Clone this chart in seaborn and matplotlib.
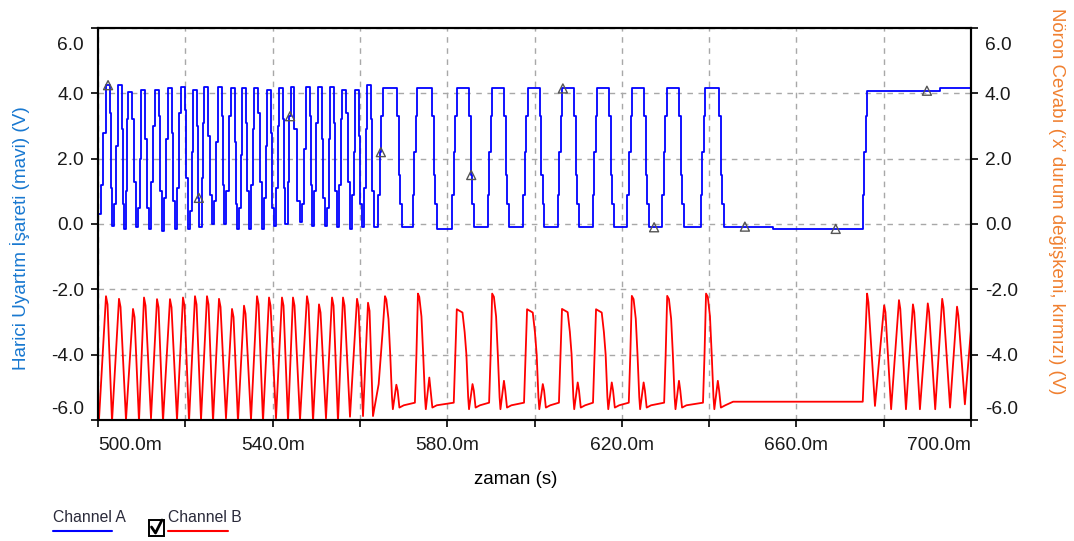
import matplotlib
matplotlib.use("Agg")
import matplotlib.pyplot as plt
import seaborn as sns
from matplotlib.transforms import ScaledTranslation
from matplotlib.patches import Rectangle
from matplotlib.lines import Line2D

# ---------------- data: time in ms, voltage in V ----------------
# Channel A (external stimulus, blue) - fast section
a_start_ms, a_start_v = 500.0, 0.3
a_peak_ms = [502.29, 505.04, 507.33, 510.31, 513.52, 516.49, 519.47, 522.22, 524.74, 527.95, 530.93,
             533.45, 536.20, 539.18, 541.92, 544.60, 548.11, 550.86, 553.61, 556.36, 559.34, 562.09]
a_peak_v = [4.25, 4.25, 4.05, 4.1, 4.1, 4.15, 4.2, 4.1, 4.2, 4.2, 4.15,
            4.15, 4.15, 4.1, 4.15, 4.2, 4.2, 4.2, 4.2, 4.1, 4.1, 4.25]
a_trough_ms = [503.44, 506.19, 508.93, 511.91, 514.89, 517.87, 520.85, 523.50, 526.35, 529.10, 532.07,
               534.82, 537.80, 540.55, 543.20, 546.51, 549.26, 552.23, 554.98, 557.96, 560.71, 563.46]
a_trough_v = [-0.05, -0.15, -0.1, -0.15, -0.2, -0.15, -0.15, -0.1, 0.0, 0.0, -0.15,
              -0.15, -0.15, -0.05, 0.0, 0.05, -0.05, -0.05, -0.1, -0.15, -0.1, -0.1]
# intermediate sample levels on each rising / falling edge of the fast section
a_up_stairs = [[1.2, 2.8], [0.6, 2.4], [1.0, 3.2], [0.5, 2.0], [1.3, 3.0], [0.8, 2.6], [1.1, 3.4],
               [0.4, 2.2], [1.4, 3.1], [0.7, 2.5], [1.0, 3.3], [0.5, 2.1], [1.2, 2.9], [0.8, 2.4],
               [1.1, 3.0], [1.3, 3.3], [0.6, 2.3], [1.0, 3.1], [0.5, 2.6], [1.2, 3.2], [0.9, 2.2],
               [1.1, 2.9]]
a_down_stairs = [[3.4, 1.1], [2.9, 0.6], [3.2, 1.3], [2.6, 0.5], [3.3, 1.0], [2.8, 0.7], [3.5, 1.4],
                 [3.0, 0.8], [2.7, 0.9], [3.3, 1.2], [2.5, 0.6], [3.1, 1.0], [3.4, 1.3], [2.8, 0.5],
                 [3.2, 1.1], [2.9, 0.7], [3.3, 1.2], [2.6, 0.8], [3.1, 1.0], [3.4, 1.3], [2.7, 0.6],
                 [3.2, 1.0]]
# Channel A - slow square-wave section
a_rise_ms = [564.2, 572.1, 581.2, 589.3, 597.4, 605.3, 613.3, 621.3, 629.3, 638.1, 675.2]
a_hi_v = [4.15, 4.15, 4.15, 4.15, 4.15, 4.15, 4.15, 4.15, 4.15, 4.15, 4.08]
a_fall_ms = [568.6, 576.6, 585.0, 593.1, 601.2, 609.1, 617.1, 625.1, 633.1, 642.3]
a_lo_v = [-0.1, -0.15, -0.1, -0.1, -0.1, -0.1, -0.1, -0.1, -0.1, -0.08]
a_rise_stairs = [0.9, 2.2, 3.3]
a_fall_stairs = [3.3, 1.5, 0.6]
a_rest_ms, a_rest_v = 654.7, -0.15
a_end_ms = [693.0, 700.0]
a_end_v = [4.15, 4.15]
# sample markers on channel A
mk_ms = [502.3, 523.1, 544.0, 564.8, 585.5, 606.5, 627.4, 648.2, 669.0, 689.9]
mk_v = [4.25, 0.8, 3.3, 2.2, 1.5, 4.15, -0.1, -0.08, -0.15, 4.08]

# Channel B (neuron response, red) - fast oscillation section
b_trough_ms = [500.2, 503.21, 506.41, 509.39, 512.14, 514.89, 518.10, 520.85, 523.60, 526.35, 529.32,
               532.07, 535.05, 537.80, 540.78, 543.53, 546.28, 549.26, 552.23, 554.98, 557.73, 560.71,
               563.0]
b_trough_v = [-6.05, -6.05, -6.0, -6.05, -5.95, -6.05, -6.0, -6.05, -6.0, -6.05, -5.95,
              -6.05, -6.0, -6.05, -5.95, -6.05, -6.0, -6.05, -5.95, -6.05, -5.9, -5.88,
              -5.88]
b_peak_ms = [501.83, 504.81, 508.02, 510.54, 513.52, 516.49, 519.47, 522.22, 524.97, 527.72, 530.70,
             533.45, 536.43, 539.18, 542.15, 544.67, 547.88, 550.63, 553.61, 556.13, 559.34, 561.86]
b_peak_v = [-2.21, -2.29, -2.6, -2.25, -2.3, -2.3, -2.25, -2.21, -2.21, -2.29, -2.6,
            -2.5, -2.21, -2.25, -2.25, -2.25, -2.21, -2.46, -2.25, -2.25, -2.29, -2.41]
b_lead_ms = [564.3, 565.2]
b_lead_v = [-4.9, -3.3]
# Channel B - bursts during slow stimulus
b_burst_ms = [565.75, 573.3, 582.2, 590.3, 598.3, 606.3, 614.1, 622.3, 630.4, 639.3]
b_burst_v = [-2.21, -2.13, -2.61, -2.13, -2.61, -2.6, -2.61, -2.2, -2.2, -2.13]
b_burst_top = [0.3, 0.3, 1.3, 0.4, 1.3, 1.3, 1.3, 0.4, 0.4, 0.4]
b_spike_v = [-4.92, -4.7, -4.9, -4.8, -4.9, -4.85, -4.85, -4.85, -4.8, -4.8]
b_base_v = -5.47
# Channel B - rest and renewed oscillation
b_tail_ms = [645.5, 675.2, 676.2, 676.5, 678.0, 680.1, 680.4, 681.7, 683.5, 683.8, 685.1, 686.7, 687.0,
             688.3, 690.1, 690.4, 691.8, 693.4, 693.7, 695.2, 696.8, 697.1, 698.6, 700.0]
b_tail_v = [-5.44, -5.44, -2.13, -2.4, -5.57, -2.49, -2.7, -5.67, -2.33, -2.6, -5.67, -2.46, -2.7,
            -5.67, -2.43, -2.7, -5.67, -2.29, -2.55, -5.62, -2.53, -2.8, -5.52, -3.23]

x_major = [500, 540, 580, 620, 660, 700]
x_minor = [520, 560, 600, 640, 680]
y_ticks = [-6, -4, -2, 0, 2, 4, 6]

STEP = 0.35  # sample spacing on the slow edges (ms)


def channel_a():
    """Sample-and-hold vertices of the stimulus (drawn as steps)."""
    t, v = [a_start_ms], [a_start_v]
    prev_end = a_start_ms + 0.6
    for i in range(len(a_peak_ms)):
        tp, vp = a_peak_ms[i], a_peak_v[i]
        r1, r2 = a_up_stairs[i]
        top0, top1 = tp - 0.4, tp + 0.4
        t += [prev_end, (prev_end + top0) / 2, top0]
        v += [r1, r2, vp]
        tt, vt = a_trough_ms[i], a_trough_v[i]
        f1, f2 = a_down_stairs[i]
        lo0 = tt - 0.3
        t += [top1, (top1 + lo0) / 2, lo0]
        v += [f1, f2, vt]
        prev_end = tt + 0.3
    for i in range(len(a_rise_ms)):
        if i == len(a_fall_ms):
            t.append(a_rest_ms)
            v.append(a_rest_v)
        tr = a_rise_ms[i]
        for k, lv in enumerate(a_rise_stairs):
            t.append(tr + k * STEP)
            v.append(lv)
        t.append(tr + len(a_rise_stairs) * STEP)
        v.append(a_hi_v[i])
        if i < len(a_fall_ms):
            tf = a_fall_ms[i]
            for k, lv in enumerate(a_fall_stairs):
                t.append(tf + k * STEP)
                v.append(lv)
            t.append(tf + len(a_fall_stairs) * STEP)
            v.append(a_lo_v[i])
    return t + a_end_ms, v + a_end_v


def channel_b():
    t, v = [], []
    for i in range(len(b_trough_ms)):
        t.append(b_trough_ms[i])
        v.append(b_trough_v[i])
        if i < len(b_peak_ms):
            t += [b_peak_ms[i], b_peak_ms[i] + 0.35]
            v += [b_peak_v[i], b_peak_v[i] - 0.25]
    t += b_lead_ms
    v += b_lead_v
    for i, (tp, vp, top, sp) in enumerate(zip(b_burst_ms, b_burst_v, b_burst_top, b_spike_v)):
        if i > 0:
            t += [tp - 0.7, tp - 0.35]
            v += [b_base_v, -4.0]
        te = tp + top
        t += [tp, te, te + 0.5, te + 0.9, te + 1.3, te + 1.5, te + 2.3, te + 2.6, te + 3.0, te + 4.0]
        v += [vp, vp - 0.1, vp - 0.7, -4.0, -5.3, -5.67, sp, -5.1, -5.62, -5.55]
    return t + b_tail_ms, v + b_tail_v


sns.set_theme(style="white")
plt.rcParams["font.family"] = ["Liberation Sans", "DejaVu Sans"]

W, H = 1074, 541
fig = plt.figure(figsize=(W / 100, H / 100), dpi=100)
fig.patch.set_facecolor("white")
ax = fig.add_axes([98 / W, 1 - 420 / H, (971 - 98) / W, (420 - 28) / H])
ax.set_facecolor("white")

ta, va = channel_a()
tb, vb = channel_b()
sns.lineplot(x=ta, y=va, sort=False, estimator=None, color="#0000FF", lw=1.3,
             drawstyle="steps-post", ax=ax)
sns.lineplot(x=tb, y=vb, sort=False, estimator=None, color="#FF0000", lw=1.3, ax=ax)
sns.scatterplot(x=mk_ms, y=mk_v, marker="^", s=42, facecolor="none", edgecolor="#555555",
                linewidth=1.0, ax=ax, zorder=5)

ax.set_xlim(500, 700)
ax.set_ylim(-6, 6)
ax.set_xticks(x_major)
ax.set_xticks(x_minor, minor=True)
ax.set_xticklabels([f"{x:.1f}m" for x in x_major])
ax.set_yticks(y_ticks)
ax.set_yticklabels([f"{y:.1f}" for y in y_ticks])
ax.grid(True, which="both", axis="x", color="#A8A8A8", linestyle=(0, (4, 4)), lw=1.0)
ax.grid(True, which="major", axis="y", color="#A8A8A8", linestyle=(0, (4, 4)), lw=1.0)
ax.set_xlabel("")
ax.set_ylabel("")

tick_color = "#1a1a1a"
FS = 13.8
ax.tick_params(axis="x", which="both", direction="out", length=5, width=1.2, color="black",
               bottom=True, labelsize=FS, labelcolor=tick_color, pad=7)
ax.tick_params(axis="y", which="major", direction="out", length=5, width=1.2, color="black",
               left=True, labelsize=FS, labelcolor=tick_color, pad=5)
for s in ax.spines.values():
    s.set_color("black")
    s.set_linewidth(1.5)

ax2 = ax.twinx()
ax2.set_ylim(-6, 6)
ax2.set_yticks(y_ticks)
ax2.set_yticklabels([f"{y:.1f}" for y in y_ticks])
ax2.tick_params(axis="y", direction="out", length=5, width=1.2, color="black", right=True,
                labelsize=FS, labelcolor=tick_color, pad=5)
ax2.grid(False)
for s in ax2.spines.values():
    s.set_color("black")
    s.set_linewidth(1.5)

# keep the end labels inside the plot height
down = ScaledTranslation(0, -0.15, fig.dpi_scale_trans)
up = ScaledTranslation(0, 0.12, fig.dpi_scale_trans)
for a in (ax, ax2):
    labels = a.get_yticklabels()
    labels[-1].set_transform(labels[-1].get_transform() + down)
    labels[0].set_transform(labels[0].get_transform() + up)
xl = ax.get_xticklabels()
xl[0].set_horizontalalignment("left")
xl[-1].set_horizontalalignment("right")

fig.text(516 / W, 1 - 480 / H, "zaman (s)", ha="center", va="center", fontsize=13.5, color="black")
fig.text(20 / W, 1 - 238 / H, "Harici Uyartım İşareti (mavi) (V)", rotation=90,
         ha="center", va="center", fontsize=13.6, color="#1878D0")
fig.text(1056 / W, 1 - 201 / H, "Nöron Cevabı (‘x’ durum değişkeni, kırmızı) (V)", rotation=270,
         ha="center", va="center", fontsize=13.4, color="#F08030")

# channel legend
fig.text(53 / W, 1 - 517 / H, "Channel A", ha="left", va="center", fontsize=11.3, color="#2a2a3a")
fig.add_artist(Line2D([53 / W, 112 / W], [1 - 531 / H] * 2, transform=fig.transFigure,
                      color="#0000FF", lw=1.5))
fig.text(168 / W, 1 - 517 / H, "Channel B", ha="left", va="center", fontsize=11.3, color="#2a2a3a")
fig.add_artist(Line2D([168 / W, 228 / W], [1 - 531 / H] * 2, transform=fig.transFigure,
                      color="#FF0000", lw=1.5))
fig.add_artist(Rectangle((149 / W, 1 - 536 / H), 15 / W, 16 / H, transform=fig.transFigure,
                         facecolor="white", edgecolor="black", lw=1.4))
fig.add_artist(Line2D([151.5 / W, 155.5 / W, 162 / W], [1 - 527 / H, 1 - 533 / H, 1 - 520 / H],
                      transform=fig.transFigure, color="black", lw=2.0))

fig.savefig("out.png", dpi=100, facecolor="white")
